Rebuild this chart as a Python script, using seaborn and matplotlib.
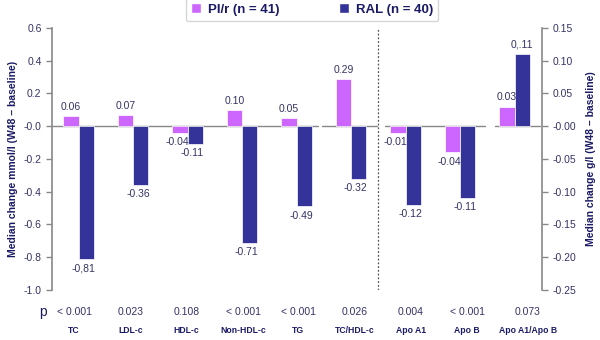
import matplotlib
matplotlib.use("Agg")
import matplotlib.pyplot as plt
import seaborn as sns
import pandas as pd
import numpy as np
from matplotlib.patches import Patch

categories = ["TC", "LDL-c", "HDL-c", "Non-HDL-c", "TG", "TC/HDL-c", "Apo A1", "Apo B", "Apo A1/Apo B"]
p_values = ["< 0.001", "0.023", "0.108", "< 0.001", "< 0.001", "0.026", "0.004", "< 0.001", "0.073"]

left_cats = categories[:6]
pir_left = [0.06, 0.07, -0.04, 0.10, 0.05, 0.29]
ral_left = [-0.81, -0.36, -0.11, -0.71, -0.49, -0.32]
pir_left_lbl = ["0.06", "0.07", "-0.04", "0.10", "0.05", "0.29"]
ral_left_lbl = ["-0,81", "-0.36", "-0.11", "-0.71", "-0.49", "-0.32"]

right_cats = categories[6:]
pir_right = [-0.01, -0.04, 0.03]
ral_right = [-0.12, -0.11, 0.11]
pir_right_lbl = ["-0.01", "-0.04", "0.03"]
ral_right_lbl = ["-0.12", "-0.11", "0,.11"]

groups = ["PI/r (n = 41)", "RAL (n = 40)"]
colors = ["#cc66ff", "#333399"]
navy = "#1a1a66"
tick_col = "#333366"
grey = "#888888"

df_left = pd.DataFrame({
    "cat": left_cats * 2,
    "grp": [groups[0]] * 6 + [groups[1]] * 6,
    "val": pir_left + ral_left,
})
df_right = pd.DataFrame({
    "cat": right_cats * 2,
    "grp": [groups[0]] * 3 + [groups[1]] * 3,
    "val": pir_right + ral_right,
})

sns.set_style("white")
plt.rcParams["font.family"] = ["Liberation Sans", "DejaVu Sans"]

fig = plt.figure(figsize=(6, 3.4), dpi=100)
ax = fig.add_axes([0.0867, 0.147, 0.8167, 0.771])
ax2 = ax.twinx()

sns.barplot(data=df_left, x="cat", y="val", hue="grp", order=categories,
            hue_order=groups, palette=colors, saturation=1, width=0.56, ax=ax,
            edgecolor="white", linewidth=0.5, legend=False, errorbar=None)
sns.barplot(data=df_right, x="cat", y="val", hue="grp", order=categories,
            hue_order=groups, palette=colors, saturation=1, width=0.56, ax=ax2,
            edgecolor="white", linewidth=0.5, legend=False, errorbar=None)

xlim = (-0.486, 8.505)
ax.set_xlim(*xlim)
ax2.set_xlim(*xlim)
ax.set_ylim(-1.0, 0.6)
ax2.set_ylim(-0.25, 0.15)
ax.set_yticks(np.arange(-1.0, 0.61, 0.2))
ax.set_yticklabels([f"{v:.1f}" for v in np.arange(-1.0, 0.61, 0.2)])
ax2.set_yticks(np.arange(-0.25, 0.151, 0.05))
ax2.set_yticklabels([f"{v:.2f}" for v in np.arange(-0.25, 0.151, 0.05)])

# Bar labels
def label_bars(a, labels_by_group):
    for gi, cont in enumerate(a.containers):
        labels = labels_by_group[gi]
        bars = [b for b in cont if not np.isnan(b.get_height())]
        for b, lbl in zip(bars, labels):
            h = b.get_height()
            xc = b.get_x() + b.get_width() / 2
            if h >= 0:
                a.annotate(lbl, (xc, h), xytext=(0, 3), textcoords="offset points",
                           ha="center", va="bottom", fontsize=7.5, color=tick_col)
            else:
                a.annotate(lbl, (xc, h), xytext=(-2, -3), textcoords="offset points",
                           ha="center", va="top", fontsize=7.5, color=tick_col)

label_bars(ax, [pir_left_lbl, ral_left_lbl])
label_bars(ax2, [pir_right_lbl, ral_right_lbl])

# Zero line segments
for x0, x1 in [(-0.486, 4.39), (4.47, 5.48), (5.62, 7.46), (7.64, 8.47)]:
    ax.plot([x0, x1], [0, 0], color=grey, lw=1.0, zorder=0.5)

# Dashed divider
ax.axvline(5.5, color="#555555", lw=0.9, ls=(0, (1.5, 1.5)))

# Spines
for a in (ax, ax2):
    for s in a.spines.values():
        s.set_visible(False)
ax.spines["left"].set_visible(True)
ax.spines["left"].set_color(grey)
ax.spines["left"].set_linewidth(1.2)
ax2.spines["right"].set_visible(True)
ax2.spines["right"].set_color(grey)
ax2.spines["right"].set_linewidth(1.2)

ax.tick_params(axis="y", direction="out", length=4, width=1, color=grey,
               labelsize=7.5, labelcolor=tick_col, left=True)
ax2.tick_params(axis="y", direction="out", length=4, width=1, color=grey,
                labelsize=7.5, labelcolor=tick_col, right=True)
ax.set_xticks([])
ax.set_xlabel("")
ax2.set_xlabel("")
ax.set_ylabel("Median change mmol/l (W48 \u2013 baseline)", fontsize=7.5,
              fontweight="bold", color=navy, labelpad=4)
ax2.set_ylabel("Median change g/l (W48 \u2013 baseline)", fontsize=7.5,
               fontweight="bold", color=navy, rotation=90, labelpad=7)
ax.grid(False)
ax2.grid(False)

# p values and category labels (label row has its own slightly wider spacing)
label_px = [74, 130.5, 186.5, 243, 298, 354.5, 411, 467, 528]
label_x = [(px - 78.5) / 54.5 for px in label_px]
trans = ax.get_xaxis_transform()
for xl, c, p in zip(label_x, categories, p_values):
    ax.text(xl, -0.083, p, transform=trans, ha="center", va="center",
            fontsize=7.5, color=tick_col, clip_on=False)
    ax.text(xl, -0.153, c, transform=trans, ha="center", va="center",
            fontsize=6.2, fontweight="bold", color=navy, clip_on=False)
ax.text(-0.66, -0.083, "p", transform=trans, ha="center", va="center",
        fontsize=10, color=navy, clip_on=False)

# Legend
handles = [Patch(facecolor=colors[0], label=groups[0]),
           Patch(facecolor=colors[1], label=groups[1])]
leg = fig.legend(handles=handles, loc="upper center", bbox_to_anchor=(0.52, 1.025),
                 ncol=2, frameon=True, fancybox=True, shadow=False,
                 prop={"weight": "bold", "size": 9.5}, handlelength=0.8,
                 handleheight=0.8, columnspacing=4.5, borderpad=0.4,
                 handletextpad=0.5)
for t in leg.get_texts():
    t.set_color(navy)
leg.get_frame().set_edgecolor("#cccccc")

fig.savefig("out.png", dpi=100)
